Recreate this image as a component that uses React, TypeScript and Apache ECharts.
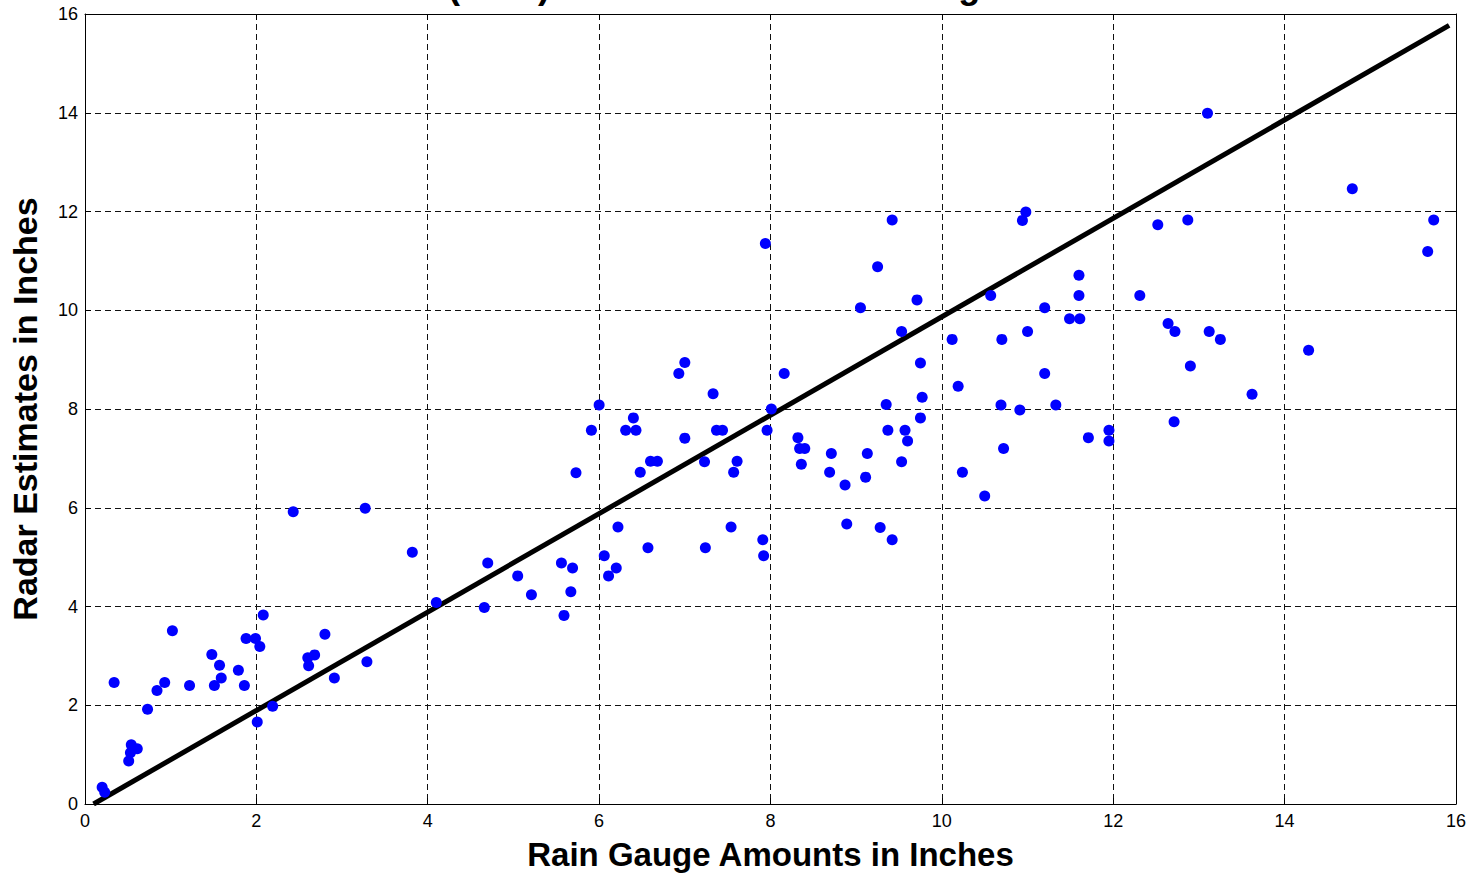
import React, { useEffect, useRef } from "react";
import * as echarts from "echarts";

const titleText = "Radar (MPE) Estimates vs. Rain Gauge Amounts";
const xAxisTitle = "Rain Gauge Amounts in Inches";
const yAxisTitle = "Radar Estimates in Inches";
const axisMin = 0;
const axisMax = 16;
const tickStep = 2;

const gaugeInches = [
  0.20, 0.23, 0.34, 0.51, 0.53, 0.54, 0.61, 0.73, 0.84, 0.93, 1.02, 1.22, 1.48, 1.57, 1.51, 1.59,
  1.79, 1.86, 1.88, 1.99, 2.04, 2.08, 2.01, 2.19, 2.60, 2.61, 2.68, 2.80, 2.91, 3.29, 4.10,
  2.43, 3.27, 5.73, 5.91, 6.00,
  3.82, 4.70, 4.66, 5.05, 5.21, 5.56, 5.69, 5.67, 5.59, 6.06, 6.11, 6.20, 6.22, 6.31, 6.43, 6.40,
  6.48, 6.57, 6.60, 6.68, 7.00, 7.23, 7.24, 7.33, 7.37, 7.44, 7.54, 7.61, 7.57, 7.91, 7.92, 7.96, 8.01,
  7.94, 7.00, 6.93, 8.16,
  9.42, 9.25, 9.05, 9.71, 9.53, 9.75, 9.77, 9.35, 9.75, 9.37, 9.57, 9.60, 9.53, 8.32, 8.34, 8.40,
  8.36, 8.71, 9.13, 8.69, 8.87, 9.11, 8.89, 9.28, 9.42, 10.98, 10.94, 12.52, 11.60, 11.60, 12.31,
  10.57, 11.20, 11.49, 11.61, 12.64, 12.72, 10.12, 10.70, 11.00, 11.20, 10.19, 10.69, 10.91, 11.33,
  10.72, 10.24, 10.50, 11.71, 11.95, 11.95, 12.71,
  13.10, 14.79, 15.74, 15.67, 12.87, 13.12, 13.25, 14.28, 12.90, 13.62,
];

const radarInches = [
  0.34, 0.24, 2.46, 0.87, 1.04, 1.20, 1.12, 1.92, 2.30, 2.46, 3.51, 2.40, 3.03, 2.81, 2.40, 2.55,
  2.71, 2.40, 3.35, 3.35, 3.19, 3.83, 1.66, 1.98, 2.96, 2.80, 3.02, 3.44, 2.55, 2.88, 4.08,
  5.92, 5.99, 6.71, 7.57, 8.08,
  5.10, 4.88, 3.98, 4.62, 4.24, 4.88, 4.78, 4.30, 3.82, 5.03, 4.62, 4.78, 5.61, 7.57, 7.57, 7.82,
  6.72, 5.19, 6.94, 6.94, 7.41, 6.93, 5.19, 8.31, 7.57, 7.57, 5.61, 6.94, 6.72, 5.35, 5.03, 7.57, 8.00,
  11.35, 8.94, 8.72, 8.72,
  11.83, 10.88, 10.05, 10.21, 9.57, 8.93, 8.24, 8.09, 7.82, 7.57, 7.57, 7.35, 6.93, 7.42, 7.20, 7.20,
  6.88, 7.10, 7.10, 6.72, 6.46, 6.62, 5.67, 5.60, 5.35, 11.99, 11.82, 11.73, 10.71, 10.30, 10.30,
  10.30, 10.05, 9.83, 9.83, 9.73, 9.57, 9.41, 9.41, 9.57, 8.72, 8.46, 8.08, 7.98, 8.08,
  7.20, 6.72, 6.24, 7.42, 7.57, 7.35, 7.74,
  13.99, 12.46, 11.83, 11.19, 11.83, 9.57, 9.41, 9.19, 8.87, 8.30,
];

const fitLineX = [0.1, 15.92];
const fitLineY = [0.0, 15.77];

const FONT = "'Liberation Sans', Arial, Helvetica, sans-serif";

export default function App() {
  const ref = useRef<HTMLDivElement>(null);

  useEffect(() => {
    document.body.style.margin = "0";
    if (!ref.current) return;
    const chart = echarts.init(ref.current, null, { renderer: "svg" });

    const points = gaugeInches.map((g, i) => [g, radarInches[i]]);
    const linePts = fitLineX.map((x, i) => [x, fitLineY[i]]);

    const gridLine = { show: true, lineStyle: { color: "#111", width: 1, type: [6, 4] as any } };

    chart.setOption({
      animation: false,
      backgroundColor: "#ffffff",
      title: {
        text: titleText,
        left: 331,
        top: -38,
        textStyle: { fontFamily: FONT, fontSize: 36, fontWeight: "bold", color: "#000" },
      },
      grid: { left: 83, right: 13, top: 14, bottom: 71, containLabel: false },
      xAxis: [
        {
          type: "value",
          position: "bottom",
          min: axisMin,
          max: axisMax,
          interval: tickStep,
          name: xAxisTitle,
          nameLocation: "middle",
          nameGap: 34,
          nameTextStyle: { fontFamily: FONT, fontSize: 33, fontWeight: "bold", color: "#000" },
          axisLine: { show: true, onZero: false, lineStyle: { color: "#000", width: 1 } },
          axisTick: { show: true, inside: true, length: 6, lineStyle: { color: "#000" } },
          axisLabel: { margin: 8, fontFamily: FONT, fontSize: 18, color: "#000" },
          splitLine: gridLine,
        },
        {
          type: "value",
          position: "top",
          min: axisMin,
          max: axisMax,
          interval: tickStep,
          axisLine: { show: true, onZero: false, lineStyle: { color: "#000", width: 1 } },
          axisTick: { show: true, inside: true, length: 6, lineStyle: { color: "#000" } },
          axisLabel: { show: false },
          splitLine: { show: false },
        },
      ],
      yAxis: [
        {
          type: "value",
          position: "left",
          min: axisMin,
          max: axisMax,
          interval: tickStep,
          name: yAxisTitle,
          nameLocation: "middle",
          nameGap: 43,
          nameTextStyle: { fontFamily: FONT, fontSize: 34, fontWeight: "bold", color: "#000" },
          axisLine: { show: true, onZero: false, lineStyle: { color: "#000", width: 1 } },
          axisTick: { show: true, inside: true, length: 6, lineStyle: { color: "#000" } },
          axisLabel: { margin: 7, fontFamily: FONT, fontSize: 18, color: "#000" },
          splitLine: gridLine,
        },
        {
          type: "value",
          position: "right",
          min: axisMin,
          max: axisMax,
          interval: tickStep,
          axisLine: { show: true, onZero: false, lineStyle: { color: "#000", width: 1 } },
          axisTick: { show: true, inside: true, length: 6, lineStyle: { color: "#000" } },
          axisLabel: { show: false },
          splitLine: { show: false },
        },
      ],
      series: [
        {
          type: "line",
          data: linePts,
          xAxisIndex: 0,
          yAxisIndex: 0,
          symbol: "none",
          lineStyle: { color: "#000", width: 5 },
          z: 2,
          silent: true,
        },
        {
          type: "scatter",
          data: points,
          xAxisIndex: 0,
          yAxisIndex: 0,
          symbol: "circle",
          symbolSize: 11,
          itemStyle: { color: "#0000ff", opacity: 1 },
          z: 3,
        },
      ],
    });

    return () => chart.dispose();
  }, []);

  return <div ref={ref} style={{ width: 1469, height: 876 }} />;
}
